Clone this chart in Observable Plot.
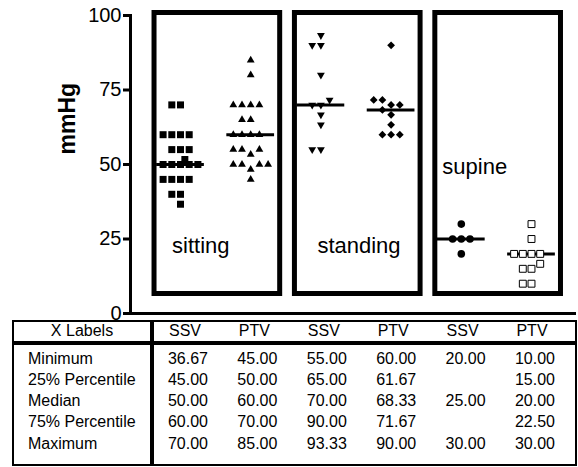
<!DOCTYPE html>
<html><head><meta charset="utf-8">
<script src="https://cdn.jsdelivr.net/npm/d3@7"></script>
<script src="https://cdn.jsdelivr.net/npm/@observablehq/plot@0.6"></script>
<style>
body{margin:0;background:#fff;font-family:"Liberation Sans",Arial,sans-serif;}
#wrap{position:relative;width:578px;height:467px;overflow:hidden;background:#fff;}
#wrap svg{display:block;position:absolute;left:0;top:0;}
.t{position:absolute;font-size:16px;line-height:20px;height:20px;white-space:nowrap;color:#000;}
.b{position:absolute;background:#000;}
</style></head><body><div id="wrap"></div>
<script>
// ---------- data ----------
const groupNames = ["sitting SSV", "sitting PTV", "standing SSV", "standing PTV", "supine SSV", "supine PTV"];
const postures = ["sitting", "standing", "supine"];
const sittingSSV = [70, 70, 60, 60, 60, 60, 55, 55, 55, 51.67, 50, 50, 50, 50, 50, 45, 45, 45, 45, 40, 40, 36.67];
const sittingPTV = [85, 80, 70, 70, 70, 70, 65, 65, 60, 60, 60, 60, 55, 55, 55, 53.33, 50, 50, 50, 50, 48.33, 45];
const standingSSV = [93.33, 90, 90, 80, 71.67, 70, 70, 66.67, 63.33, 55, 55];
const standingPTV = [90, 71.67, 71.67, 70, 70, 68.33, 66.67, 63.33, 60, 60, 60];
const supineSSV = [30, 25, 25, 25, 20];
const supinePTV = [30, 25, 20, 20, 20, 20, 16.67, 15, 15, 10, 10];
const yTicks = [0, 25, 50, 75, 100];
const yLabel = "mmHg";
const tableHeader = ["X Labels", "SSV", "PTV", "SSV", "PTV", "SSV", "PTV"];
const rowLabels = ["Minimum", "25% Percentile", "Median", "75% Percentile", "Maximum"];
const minimum = [36.67, 45.00, 55.00, 60.00, 20.00, 10.00];
const percentile25 = [45.00, 50.00, 65.00, 61.67, null, 15.00];
const median = [50.00, 60.00, 70.00, 68.33, 25.00, 20.00];
const percentile75 = [60.00, 70.00, 90.00, 71.67, null, 22.50];
const maximum = [70.00, 85.00, 93.33, 90.00, 30.00, 30.00];

// ---------- layout ----------
const W = 578, H = 321, mTop = 15, mBottom = 8, mLeft = 130, mRight = 2;
const xRange = [180, 531];
const pxPerX = (xRange[1] - xRange[0]) / (groupNames.length - 1);
const pxPerY = (H - mBottom - mTop) / 100;
const series = [sittingSSV, sittingPTV, standingSSV, standingPTV, supineSSV, supinePTV];

// scatter layout (column scatter, greedy, ascending)
const SLOT = 8.7, VGAP = 8, MAXOFF = 2.2 * SLOT;
function swarm(values, gi) {
  const placed = [];
  for (const v of [...values].sort((a, b) => a - b)) {
    const py = v * pxPerY;
    const near = placed.filter(p => Math.abs(p.py - py) < VGAP);
    const cands = [0];
    near.forEach(p => cands.push(p.px - SLOT, p.px + SLOT));
    cands.sort((a, b) => Math.abs(a) - Math.abs(b) || a - b);
    let px = cands.find(c => Math.abs(c) <= MAXOFF + 0.01 && near.every(p => Math.abs(p.px - c) >= SLOT - 0.01));
    if (px === undefined) px = SLOT / 2;
    placed.push({value: v, py, px});
  }
  return placed.map(p => ({group: groupNames[gi], value: p.value, x: gi + p.px / pxPerX}));
}

const triangleDown = {
  draw(context, size) {
    const y = -Math.sqrt(size / (Math.sqrt(3) * 3));
    context.moveTo(0, -y * 2);
    context.lineTo(-Math.sqrt(3) * y, y);
    context.lineTo(Math.sqrt(3) * y, y);
    context.closePath();
  }
};
const symbolStyles = [
  {symbol: "square", r: 3.95, fill: "black"},
  {symbol: "triangle", r: 2.9, fill: "black"},
  {symbol: triangleDown, r: 2.9, fill: "black"},
  {symbol: "diamond2", r: 3.5, fill: "black"},
  {symbol: "circle", r: 3.8, fill: "black"},
  {symbol: "square", r: 3.9, fill: "white", stroke: "black", strokeWidth: 1}
];
const medianData = median.map((v, i) => ({group: groupNames[i], idx: i, value: v}));

const chart = Plot.plot({
  width: W, height: H,
  marginTop: mTop, marginBottom: mBottom, marginLeft: mLeft, marginRight: mRight,
  x: {type: "linear", domain: [0, groupNames.length - 1], range: xRange, axis: null},
  y: {domain: [0, 100], axis: null},
  style: {fontFamily: "'Liberation Sans', Arial, sans-serif", background: "white", color: "black", overflow: "visible"},
  marks: [
    Plot.rect(postures, {x1: (d, i) => 2 * i - 0.37, x2: (d, i) => 2 * i + 1.42, fill: "none", stroke: "black", strokeWidth: 5, insetTop: -2.5, insetBottom: 19.5}),
    Plot.ruleY([0], {strokeWidth: 3}),
    Plot.frame({anchor: "left", strokeWidth: 3}),
    Plot.axisY(yTicks, {tickSize: 7, tickPadding: 2, fontSize: 20, strokeWidth: 3, label: null}),
    Plot.text([yLabel], {frameAnchor: "left", dx: -63, dy: -10, rotate: -90, fontSize: 23, fontWeight: "bold"}),
    Plot.text(postures, {x: (d, i) => 2 * i + [-0.12, -0.05, -0.27][i], y: (d, i) => [22.8, 22.8, 49.2][i], text: d => d, textAnchor: "start", fontSize: 22}),
    Plot.ruleY(medianData, {y: "value", x1: d => d.idx - 0.34, x2: d => d.idx + 0.34, strokeWidth: 3}),
    ...series.map((vals, i) => Plot.dot(swarm(vals, i), {x: "x", y: "value", ...symbolStyles[i]}))
  ]
});
const wrap = document.getElementById("wrap");
wrap.appendChild(chart);

// ---------- table ----------
function box(l, t, w, h, extra) {
  const d = document.createElement("div");
  d.className = "b";
  Object.assign(d.style, {left: l + "px", top: t + "px", width: w + "px", height: h + "px"}, extra || {});
  wrap.appendChild(d);
}
function txt(s, l, t, w, align) {
  const d = document.createElement("div");
  d.className = "t";
  d.textContent = s;
  Object.assign(d.style, {left: l + "px", top: t + "px", width: w + "px", textAlign: align});
  wrap.appendChild(d);
}
const tL = 12, tT = 320, tW = 565, tH = 146;
box(tL, tT, tW, tH, {background: "none", border: "2px solid #000", boxSizing: "border-box"});
box(tL, 341, tW, 4);
box(150, tT, 4, tH);
const rightEdges = d3.range(6).map(k => 208 + 69.4 * k);
const headerC = 331, rowC0 = 358.5, rowStep = 21.25;
txt(tableHeader[0], 14, headerC - 9.8, 136, "center");
tableHeader.slice(1).forEach((h, k) => txt(h, rightEdges[k] - 23 - 35, headerC - 9.8, 70, "center"));
const rows = [minimum, percentile25, median, percentile75, maximum];
rows.forEach((vals, r) => {
  const top = rowC0 + r * rowStep - 9.8;
  txt(rowLabels[r], 28, top, 120, "left");
  vals.forEach((v, k) => { if (v != null) txt(v.toFixed(2), rightEdges[k] - 70, top, 70, "right"); });
});
</script></body></html>
